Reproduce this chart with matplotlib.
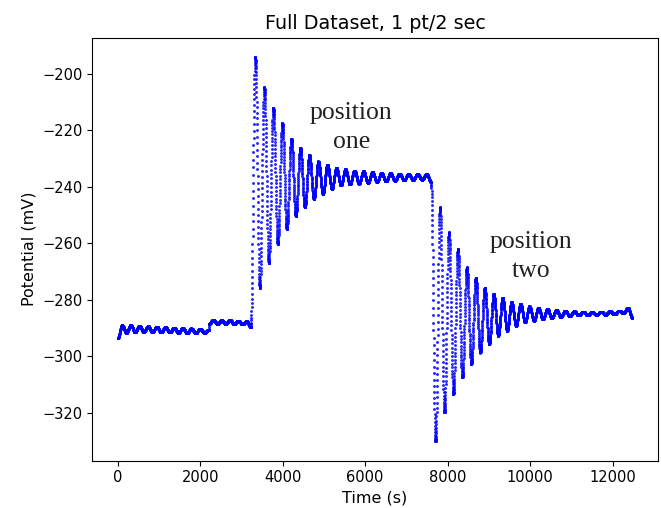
"""Full dataset potential trace, 1 pt/2 sec, with the two probe positions marked."""

import numpy as np
import matplotlib

matplotlib.use("Agg")
import matplotlib.pyplot as plt


SAMPLE_STEP = 2.0  # seconds between points

# Each segment: time of its first extreme, spacing between extremes (s),
# then alternating peak/trough values (mV).
BASE_T0, BASE_HALF = 0.0, 105.0
BASE_MV = [
    -293.6, -289.0, -291.6, -288.9, -291.4, -289.1, -291.3, -289.3,
    -291.4, -289.4, -291.5, -289.6, -291.5, -289.8, -291.6, -289.9,
    -291.7, -290.1, -291.7, -290.3, -291.6, -290.6,
]

SHIFT_T0, SHIFT_HALF = 2215.0, 101.0
SHIFT_MV = [
    -288.4, -287.1, -288.5, -287.2, -288.4, -287.1, -288.5, -287.3,
    -288.6, -287.5, -289.6,
]

POS1_T0, POS1_HALF = 3225.0 + 109.3, 109.3
POS1_MV = [
    -194.0, -275.8, -204.7, -267.0, -212.0, -260.2, -217.5, -254.9,
    -223.0, -250.2, -226.3, -247.2, -228.7, -244.2, -231.0, -242.5,
    -232.2, -240.7, -233.3, -239.5, -233.8, -239.1, -234.2, -238.8,
    -234.5, -238.5, -234.8, -238.2, -235.0, -238.0, -235.2, -237.8,
    -235.3, -237.6, -235.4, -237.5, -235.5, -237.4, -235.5, -238.2,
]

POS2_T0, POS2_HALF = 7705.0, 108.5
POS2_MV = [
    -330.1, -247.2, -319.8, -256.1, -313.3, -262.0, -307.4, -268.5,
    -302.7, -272.2, -298.6, -275.8, -295.6, -277.9, -292.6, -279.3,
    -290.9, -280.8, -289.1, -281.4, -287.9,
    -282.3, -287.3, -282.8, -286.8, -283.2, -286.4, -283.5, -286.0,
    -283.8, -285.7, -284.0, -285.5, -284.1, -285.4, -284.2, -285.3,
    -284.1, -285.2, -284.0, -285.1, -283.8, -284.6, -282.8, -286.3,
]

ANNOTATIONS = [
    (5660, -218.9, "position\none"),
    (10030, -264.7, "position\ntwo"),
]


def extremes():
    ts, vs = [], []
    for t0, half, mv in (
        (BASE_T0, BASE_HALF, BASE_MV),
        (SHIFT_T0, SHIFT_HALF, SHIFT_MV),
        (POS1_T0, POS1_HALF, POS1_MV),
        (POS2_T0, POS2_HALF, POS2_MV),
    ):
        ts.extend(t0 + half * np.arange(len(mv)))
        vs.extend(mv)
    return np.array(ts), np.array(vs)


def sample_trace(ts, vs):
    # half-cosine swing between consecutive extremes, sampled every 2 s
    t = np.arange(ts[0], ts[-1], SAMPLE_STEP)
    idx = np.clip(np.searchsorted(ts, t, side="right") - 1, 0, len(ts) - 2)
    frac = (t - ts[idx]) / (ts[idx + 1] - ts[idx])
    v = vs[idx] + (vs[idx + 1] - vs[idx]) * (1 - np.cos(np.pi * frac)) / 2
    return t, v


def main():
    t, v = sample_trace(*extremes())

    fig = plt.figure(figsize=(6.61, 5.08), dpi=100)
    ax = fig.add_axes([0.1392, 0.0931, 0.8563, 0.8327])
    ax.plot(t, v, "o", color="blue", markersize=2.1, markeredgewidth=0, alpha=0.85)
    for x, y, label in ANNOTATIONS:
        ax.text(x, y, label, ha="center", va="center", multialignment="center",
                family="Liberation Serif", fontsize=18.5, color="#222222",
                linespacing=1.4)
    ax.tick_params(labelsize=10.5)
    ax.set_title("Full Dataset, 1 pt/2 sec", fontsize=13.8)
    ax.set_xlabel("Time (s)", fontsize=11.5)
    ax.set_ylabel("Potential (mV)", fontsize=11.5)
    fig.savefig("out.png", dpi=100)
    plt.close(fig)


if __name__ == "__main__":
    main()
